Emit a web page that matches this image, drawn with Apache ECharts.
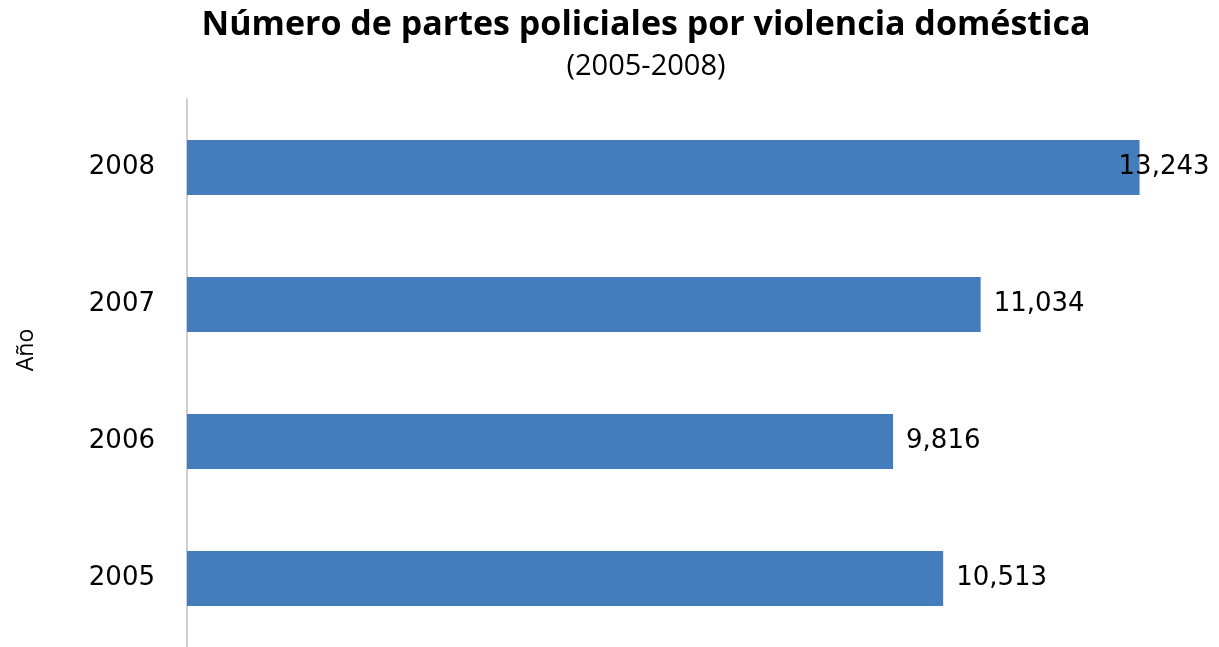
<!DOCTYPE html>
<html>
<head>
<meta charset="utf-8">
<script src="https://cdn.jsdelivr.net/npm/echarts@6/dist/echarts.min.js"></script>
<style>
html,body{margin:0;padding:0;background:#fff;}
#chart{width:1219px;height:647px;}
</style>
</head>
<body>
<div id="chart"></div>
<script>
const titleText = 'Número de partes policiales por violencia doméstica';
const subtitleText = '(2005-2008)';
const categories = ['2005', '2006', '2007', '2008'];
const values = [10513, 9816, 11034, 13243];
const yAxisName = 'Año';

const chart = echarts.init(document.getElementById('chart'));
const fmt = v => v.toLocaleString('en-US');
chart.setOption({
  animation: false,
  backgroundColor: '#ffffff',
  title: {
    text: titleText,
    subtext: subtitleText,
    left: 641,
    textAlign: 'center',
    top: 3,
    itemGap: 10,
    textStyle: { fontFamily: 'Open Sans', fontWeight: 'bold', fontSize: 34, color: '#000' },
    subtextStyle: { fontFamily: 'Open Sans', fontSize: 29, color: '#000' }
  },
  graphic: [{
    type: 'text', x: 26, y: 350, rotation: Math.PI / 2,
    style: { text: yAxisName, fontFamily: 'Open Sans', fontSize: 23, fill: '#000', align: 'center', verticalAlign: 'middle' }
  }],
  grid: { left: 187, right: 25, top: 99, height: 550, containLabel: false },
  xAxis: {
    type: 'value', min: 0, max: 14000,
    show: false
  },
  yAxis: {
    type: 'category', data: categories,
    axisLine: { show: true, lineStyle: { color: '#bfbfbf', width: 1.5 } },
    axisTick: { show: false },
    axisLabel: { fontFamily: 'DejaVu Sans', fontSize: 26, color: '#000', margin: 32 },
    splitLine: { show: false }
  },
  series: [{
    type: 'bar',
    data: values.map((v, i) => ({
      value: v,
      label: i === values.length - 1 ? { offset: [-34, 0] } : {}
    })),
    barWidth: 55,
    itemStyle: { color: '#457cbb' },
    label: {
      show: true, position: 'right', distance: 13,
      fontFamily: 'DejaVu Sans', fontSize: 26, color: '#000',
      formatter: p => fmt(p.value)
    }
  }]
});
</script>
</body>
</html>
